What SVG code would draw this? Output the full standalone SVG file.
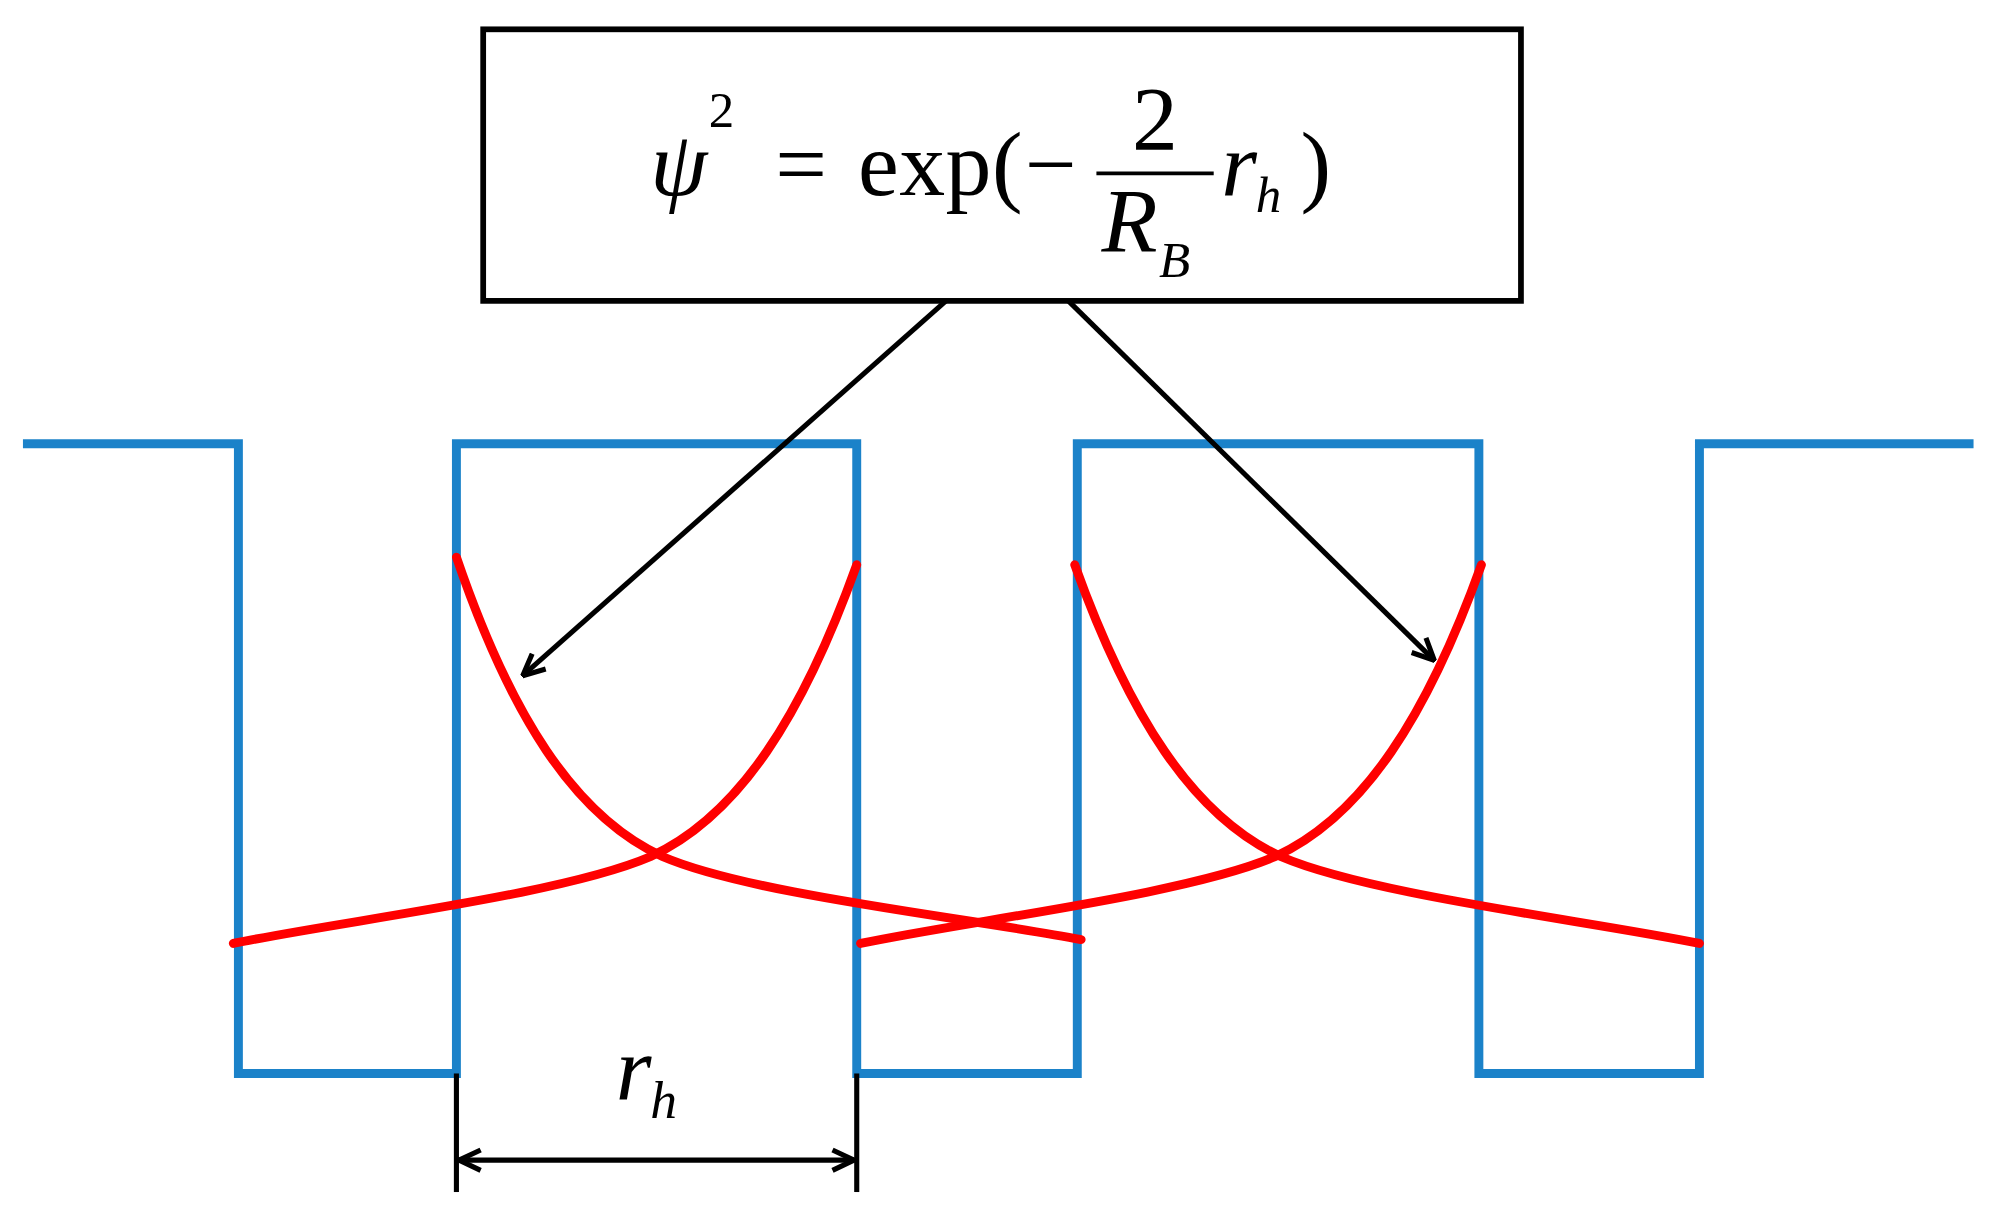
<svg xmlns="http://www.w3.org/2000/svg" width="1999" height="1226" viewBox="0 0 1999 1226">
<defs>
<marker id="ah" viewBox="0 0 20 20" refX="19" refY="10" markerWidth="20" markerHeight="20" markerUnits="userSpaceOnUse" orient="auto-start-reverse"><path d="M2,2 L19,10 L2,18" fill="none" stroke="#000" stroke-width="4"/></marker>
<style>
.t{font-family:"Liberation Serif",serif;fill:#000}
.blue{fill:none;stroke:#1b82c9;stroke-width:7}
.red{fill:none;stroke:#f00;stroke-width:7;stroke-linecap:round}
.k{fill:none;stroke:#000;stroke-width:4}
</style>
</defs>
<rect width="1999" height="1226" fill="#fff"/>
<g transform="scale(1.2749)">
<g id="formula">
<rect x="379" y="23" width="814" height="213" fill="#fff" stroke="#000" stroke-width="4.5"/>
<text class="t" x="510" y="153" font-size="72" font-style="italic">ψ</text>
<text class="t" x="556" y="100" font-size="40">2</text>
<text class="t" x="608" y="153" font-size="72">=</text>
<text class="t" x="673" y="153" font-size="72" textLength="129">exp(</text>
<text class="t" x="804" y="153" font-size="72">−</text>
<text class="t" x="906" y="118" font-size="72" text-anchor="middle">2</text>
<line x1="860" y1="136" x2="952" y2="136" stroke="#000" stroke-width="3"/>
<text class="t" x="864" y="198" font-size="72" font-style="italic">R</text>
<text class="t" x="909" y="217" font-size="40" font-style="italic">B</text>
<text class="t" x="958" y="153" font-size="72" font-style="italic">r</text>
<text class="t" x="985" y="166" font-size="40" font-style="italic">h</text>
<text class="t" x="1020" y="153" font-size="72">)</text>
</g>
<g id="wells">
<path class="blue" d="M18,348 H187 V842 H358 V348 H672 V842 H845 V348 H1160 V842 H1333 V348 H1548"/>
</g>
<g id="curves">
<path class="red" d="M358,437 C400,560 450,640 520,672 C590,702 760,720 848,737"/>
<path class="red" d="M672,443 C630,560 580,640 510,672 C440,702 270,722 183,740"/>
<path class="red" d="M843,443 C885,560 935,640 1005,672 C1075,702 1245,722 1333,740"/>
<path class="red" d="M1162,443 C1120,560 1070,640 1000,672 C930,702 760,722 675,740"/>
</g>
<g id="connectors">
<line class="k" x1="742" y1="236" x2="410" y2="530" marker-end="url(#ah)"/>
<line class="k" x1="838" y1="236" x2="1125" y2="518" marker-end="url(#ah)"/>
<line class="k" x1="358" y1="842" x2="358" y2="935"/>
<line class="k" x1="672" y1="842" x2="672" y2="935"/>
<line class="k" x1="360" y1="910" x2="670" y2="910" marker-start="url(#ah)" marker-end="url(#ah)"/>
</g>
<g id="label">
<text class="t" x="483" y="862" font-size="72" font-style="italic">r</text>
<text class="t" x="510" y="877" font-size="42" font-style="italic">h</text>
</g>
</g>
</svg>
